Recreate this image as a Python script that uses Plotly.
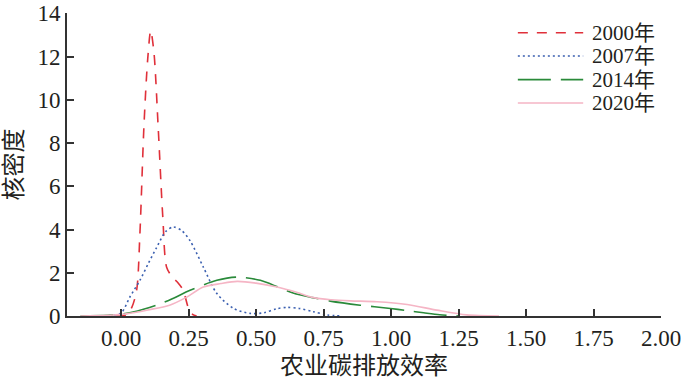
import plotly.graph_objects as go

# ---- data ----
x2000 = [-0.02, 0.02, 0.04, 0.058, 0.07, 0.085, 0.099, 0.11, 0.122, 0.138, 0.155, 0.169, 0.19, 0.21, 0.23, 0.249, 0.265, 0.28]
y2000 = [0, 0.05, 0.4, 1.2, 3.8, 8.8, 11.9, 13.2, 12.2, 8.66, 4.54, 2.26, 1.8, 1.55, 1.2, 0.4, 0.08, 0]

x2007 = [-0.1, -0.05, 0.0, 0.033, 0.07, 0.1, 0.132, 0.165, 0.194, 0.225, 0.256, 0.305, 0.355, 0.417, 0.478, 0.53, 0.575, 0.615, 0.66, 0.712, 0.763, 0.82]
y2007 = [0, 0.02, 0.14, 0.88, 1.65, 2.4, 3.17, 3.9, 4.12, 3.95, 3.48, 2.26, 1.04, 0.35, 0.12, 0.15, 0.33, 0.4, 0.35, 0.2, 0.05, 0]

x2014 = [-0.15, -0.05, 0.021, 0.08, 0.132, 0.19, 0.256, 0.355, 0.43, 0.516, 0.58, 0.64, 0.71, 0.775, 0.886, 0.998, 1.06, 1.121, 1.18, 1.25]
y2014 = [0, 0.03, 0.12, 0.3, 0.5, 0.8, 1.19, 1.65, 1.8, 1.65, 1.35, 1.05, 0.85, 0.69, 0.5, 0.35, 0.25, 0.15, 0.06, 0]

x2020 = [-0.15, -0.05, 0.02, 0.1, 0.18, 0.24, 0.305, 0.37, 0.43, 0.5, 0.578, 0.65, 0.713, 0.78, 0.85, 0.948, 1.06, 1.17, 1.28, 1.4]
y2020 = [0, 0.03, 0.1, 0.28, 0.5, 0.85, 1.34, 1.5, 1.6, 1.52, 1.34, 1.1, 0.85, 0.75, 0.7, 0.66, 0.53, 0.27, 0.05, 0]

series_names = ["2000年", "2007年", "2014年", "2020年"]

x_ticks = [0.0, 0.25, 0.5, 0.75, 1.0, 1.25, 1.5, 1.75, 2.0]
x_tick_labels = ["0.00", "0.25", "0.50", "0.75", "1.00", "1.25", "1.50", "1.75", "2.00"]
y_ticks = [0, 2, 4, 6, 8, 10, 12, 14]

FONT = "Liberation Serif, Times New Roman, Noto Sans CJK SC, serif"
FS = 23
TFS = 24
INK = "#231f20"

styles = [
    dict(color="#e0303a", width=1.6, dash="10px,9px"),
    dict(color="#3a5fb0", width=1.6, dash="2px,3px"),
    dict(color="#2a8a3a", width=1.6, dash="33px,10px"),
    dict(color="#f5b5c5", width=1.6, dash="solid"),
]
xs = [x2000, x2007, x2014, x2020]
ys = [y2000, y2007, y2014, y2020]

fig = go.Figure()
for name, x, y, st in zip(series_names, xs, ys, styles):
    fig.add_trace(go.Scatter(x=x, y=y, mode="lines", name=name, showlegend=False,
                             line=dict(shape="spline", smoothing=0.8, **st)))

# manual legend (paper coordinates)
leg_x0, leg_x1, leg_tx = 0.759, 0.869, 0.882
leg_y = [0.935, 0.858, 0.780, 0.703]
for name, st, yy in zip(series_names, styles, leg_y):
    fig.add_shape(type="line", xref="paper", yref="paper",
                  x0=leg_x0, x1=leg_x1, y0=yy, y1=yy, line=st)
    fig.add_annotation(xref="paper", yref="paper", x=leg_tx, y=yy,
                       xanchor="left", yanchor="middle", text=name, showarrow=False,
                       borderpad=0, font=dict(family=FONT, size=21, color=INK))

fig.update_layout(
    width=683, height=384,
    margin=dict(l=67, r=22, t=13, b=68, autoexpand=False),
    paper_bgcolor="white", plot_bgcolor="white",
    font=dict(family=FONT, size=FS, color=INK),
    showlegend=False,
    xaxis=dict(range=[-0.2, 2.0], tickvals=x_ticks, ticktext=x_tick_labels, automargin=False,
               showgrid=False, zeroline=False, showline=True, linecolor="#333333",
               linewidth=2, ticks="inside", ticklen=7, tickwidth=1.5, tickcolor="#333333",
               title=dict(text="农业碳排放效率", font=dict(size=TFS), standoff=8)),
    yaxis=dict(range=[0, 14.02], tickvals=y_ticks, ticklabeloverflow="allow", automargin=False,
               showgrid=False, zeroline=False, showline=True, linecolor="#333333",
               linewidth=2, ticks="inside", ticklen=7, tickwidth=1.5, tickcolor="#333333",
               title=dict(text="核密度", font=dict(size=TFS), standoff=8)),
)

fig.write_html("out.html")
